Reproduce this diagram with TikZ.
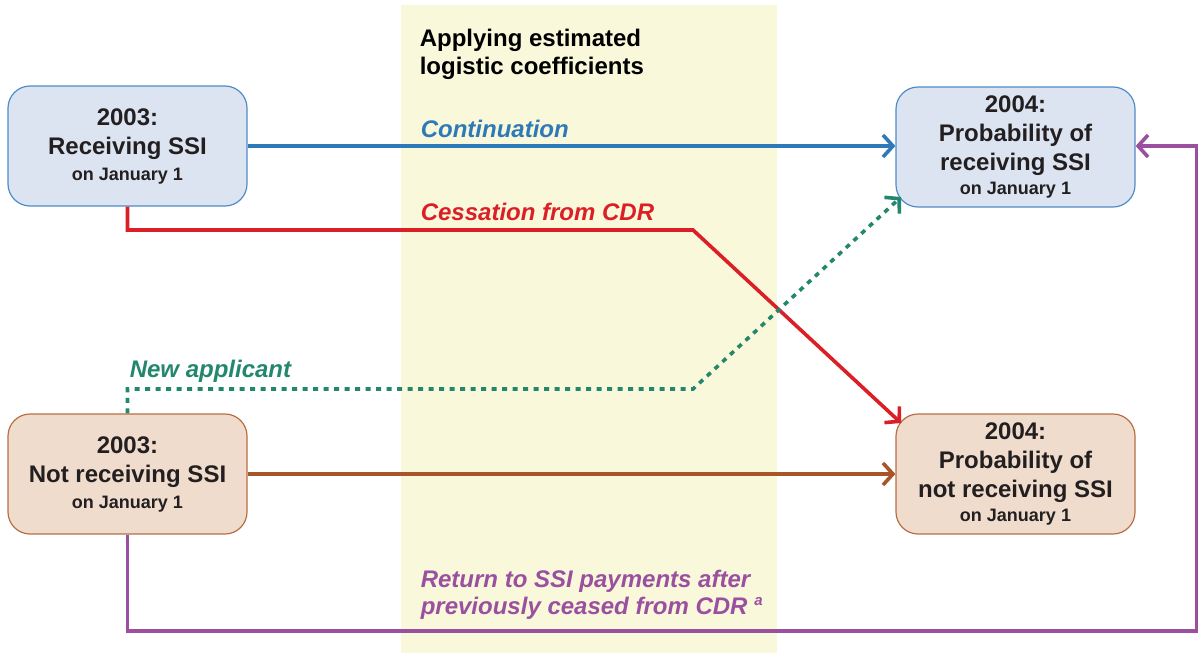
\documentclass[tikz,border=0pt]{standalone}
\usepackage{fontspec}
\setmainfont{Liberation Sans}
\usetikzlibrary{arrows.meta}

\definecolor{bandyellow}{RGB}{250,248,218}
\definecolor{textdark}{RGB}{35,31,32}
\definecolor{recvfill}{RGB}{220,228,241}
\definecolor{recvborder}{RGB}{80,140,200}
\definecolor{notfill}{RGB}{239,220,205}
\definecolor{notborder}{RGB}{184,110,69}
\definecolor{contblue}{RGB}{46,122,184}
\definecolor{cessred}{RGB}{218,31,38}
\definecolor{newgreen}{RGB}{35,135,110}
\definecolor{staybrown}{RGB}{169,85,42}
\definecolor{retpurple}{RGB}{154,80,159}

\begin{document}
\begin{tikzpicture}[x=1pt,y=-1pt,line width=3.6pt]
    \tikzstyle{state}=[rounded corners=22pt,line width=1.2pt,minimum width=239pt,minimum height=120pt,inner sep=0pt,align=center,text=textdark,font=\fontsize{24}{29}\selectfont\bfseries]
    \tikzstyle{recvbox}=[state,draw=recvborder,fill=recvfill]
    \tikzstyle{notbox}=[state,draw=notborder,fill=notfill]
    \tikzstyle{flow}=[-{Straight Barb[length=10pt,width=22pt]}]
    \tikzstyle{flowlabel}=[inner sep=0pt,align=left,font=\fontsize{24}{27}\selectfont\bfseries\itshape]

    \useasboundingbox (0,0) rectangle (1198,653);
    \fill[bandyellow] (401,5) rectangle (777,653);

    % states in 2003 and 2004
    \node[recvbox] (recv) at (127.5,146) {2003:\\Receiving SSI\\[-3pt]{\fontsize{18}{20}\selectfont on January 1}};
    \node[notbox] (notrecv) at (127.5,474) {2003:\\Not receiving SSI\\[-3pt]{\fontsize{18}{20}\selectfont on January 1}};
    \node[recvbox] (prob) at (1015.5,147) {2004:\\Probability of\\receiving SSI\\[-5pt]{\fontsize{18}{20}\selectfont on January 1}};
    \node[notbox] (notprob) at (1015.5,474) {2004:\\Probability of\\not receiving SSI\\[-5pt]{\fontsize{18}{20}\selectfont on January 1}};

    \node[inner sep=0pt,anchor=north west,align=left,text=black,font=\fontsize{24}{28}\selectfont\bfseries] (coef) at (418,27) {Applying estimated\\logistic coefficients};

    \coordinate (cessbend) at (693,230);
    \coordinate (cesstip) at (901,423);
    \coordinate (newbend) at (693,389);
    \coordinate (newtip) at (901,197);
    \coordinate (retlow) at (1197,631);

    \foreach \from/\to/\col in {recv/prob/contblue, notrecv/notprob/staybrown}
        \draw[flow,\col] (\from.east) -- (\to.west |- \from.east);

    \draw[flow,cessred] (recv.south) |- (cessbend) -- (cesstip);
    \draw[flow,newgreen,dash pattern=on 5pt off 5.5pt] (notrecv.north) |- (newbend) -- (newtip);
    \draw[flow,retpurple] (notrecv.south) |- (retlow) |- (prob.east |- recv.east);

    \node[flowlabel,text=contblue,anchor=base west] (contlabel) at (419,137) {Continuation};
    \node[flowlabel,text=cessred,anchor=base west] (cesslabel) at (419,220) {Cessation from CDR};
    \node[flowlabel,text=newgreen,anchor=base west] (newlabel) at (128,377) {New applicant};
    \node[flowlabel,text=retpurple,anchor=north west] (retlabel) at (419,568) {Return to SSI payments after\\previously ceased from CDR \raisebox{9pt}{\fontsize{15}{15}\selectfont a}};
\end{tikzpicture}
\end{document}
